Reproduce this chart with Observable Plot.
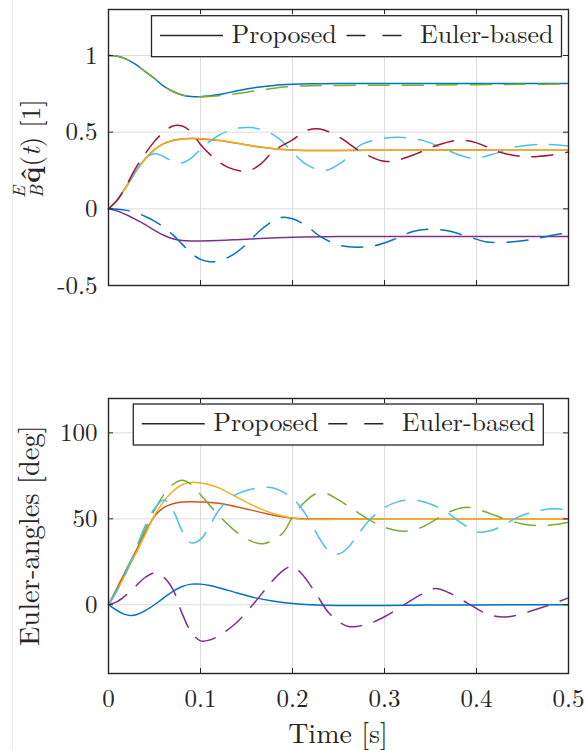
<!DOCTYPE html>
<html><head><meta charset="utf-8">
<script src="https://cdn.jsdelivr.net/npm/d3@7"></script>
<script src="https://cdn.jsdelivr.net/npm/@observablehq/plot@0.6"></script>
<style>
body{margin:0;background:#fff;width:587px;height:750px;position:relative;overflow:hidden}
#top{position:absolute;left:0;top:0}
#bot{position:absolute;left:0;top:390px}
.edge{position:absolute;left:12px;top:0;width:1px;height:750px;background:#efefef}
</style>
</head><body><div class="edge"></div><div id="top"></div><div id="bot"></div>
<script>
// ---------- tick values / labels ----------
const xTicks = [0, 0.1, 0.2, 0.3, 0.4, 0.5];
const xTickLabels = ["0", "0.1", "0.2", "0.3", "0.4", "0.5"];
const yTicksTop = [-0.5, 0, 0.5, 1];
const yTickLabelsTop = ["-0.5", "0", "0.5", "1"];
const yTicksBot = [0, 50, 100];
const yTickLabelsBot = ["0", "50", "100"];
const legendLabels = ["Proposed", "Euler-based"];
const xLabel = "Time [s]";
const yLabelBot = "Euler-angles [deg]";

// ---------- top panel: quaternion components [t, value] ----------
const qProp0 = [[0,1],[0.01,0.995],[0.02,0.975],[0.03,0.94],[0.04,0.895],[0.05,0.85],[0.06,0.80],[0.07,0.765],[0.08,0.742],[0.09,0.732],[0.1,0.731],[0.12,0.745],[0.14,0.77],[0.16,0.792],[0.18,0.805],[0.2,0.812],[0.22,0.816],[0.25,0.818],[0.3,0.818],[0.35,0.817],[0.4,0.817],[0.45,0.817],[0.5,0.817]];
const qProp1 = [[0,0],[0.01,0.062],[0.02,0.152],[0.03,0.247],[0.04,0.326],[0.05,0.386],[0.06,0.425],[0.07,0.446],[0.08,0.455],[0.09,0.458],[0.1,0.456],[0.12,0.445],[0.14,0.427],[0.16,0.407],[0.18,0.392],[0.2,0.384],[0.22,0.381],[0.25,0.381],[0.3,0.382],[0.35,0.383],[0.4,0.384],[0.45,0.385],[0.5,0.385]];
const qProp2 = [[0,0],[0.01,0.06],[0.02,0.15],[0.03,0.245],[0.04,0.325],[0.05,0.385],[0.06,0.425],[0.07,0.447],[0.08,0.457],[0.09,0.46],[0.1,0.458],[0.12,0.447],[0.14,0.428],[0.16,0.408],[0.18,0.392],[0.2,0.384],[0.22,0.381],[0.25,0.381],[0.3,0.382],[0.35,0.383],[0.4,0.384],[0.45,0.385],[0.5,0.385]];
const qProp3 = [[0,0],[0.01,-0.015],[0.02,-0.04],[0.03,-0.07],[0.04,-0.103],[0.05,-0.14],[0.06,-0.172],[0.07,-0.195],[0.08,-0.206],[0.09,-0.21],[0.1,-0.21],[0.12,-0.207],[0.15,-0.198],[0.2,-0.186],[0.25,-0.181],[0.3,-0.18],[0.4,-0.18],[0.5,-0.18]];
const qEul0 = [[0,1],[0.01,0.995],[0.02,0.975],[0.03,0.94],[0.04,0.895],[0.05,0.85],[0.06,0.80],[0.07,0.765],[0.08,0.742],[0.09,0.732],[0.1,0.731],[0.12,0.738],[0.14,0.752],[0.16,0.77],[0.18,0.787],[0.2,0.798],[0.22,0.803],[0.25,0.805],[0.3,0.806],[0.35,0.807],[0.4,0.81],[0.45,0.812],[0.5,0.814]];
const qEul1 = [[0,0],[0.01,0.06],[0.02,0.15],[0.03,0.25],[0.04,0.33],[0.05,0.36],[0.06,0.34],[0.07,0.31],[0.08,0.30],[0.09,0.33],[0.1,0.39],[0.12,0.48],[0.14,0.525],[0.155,0.53],[0.17,0.51],[0.185,0.46],[0.2,0.37],[0.215,0.29],[0.235,0.25],[0.255,0.31],[0.275,0.42],[0.3,0.46],[0.32,0.465],[0.345,0.44],[0.365,0.39],[0.395,0.33],[0.42,0.36],[0.44,0.40],[0.47,0.42],[0.5,0.41]];
const qEul2 = [[0,0],[0.01,0.06],[0.02,0.16],[0.03,0.27],[0.04,0.36],[0.05,0.44],[0.06,0.50],[0.07,0.54],[0.08,0.54],[0.09,0.50],[0.1,0.42],[0.115,0.33],[0.13,0.27],[0.15,0.245],[0.165,0.29],[0.18,0.38],[0.2,0.45],[0.215,0.51],[0.23,0.52],[0.25,0.47],[0.275,0.37],[0.3,0.31],[0.315,0.32],[0.335,0.36],[0.355,0.41],[0.38,0.448],[0.4,0.43],[0.425,0.37],[0.445,0.345],[0.46,0.34],[0.48,0.35],[0.5,0.37]];
const qEul3 = [[0,0],[0.01,-0.002],[0.02,-0.01],[0.03,-0.025],[0.04,-0.05],[0.05,-0.08],[0.06,-0.12],[0.07,-0.17],[0.08,-0.23],[0.09,-0.29],[0.1,-0.33],[0.11,-0.345],[0.12,-0.34],[0.135,-0.30],[0.15,-0.23],[0.165,-0.14],[0.18,-0.075],[0.19,-0.055],[0.2,-0.065],[0.215,-0.11],[0.23,-0.18],[0.25,-0.235],[0.27,-0.25],[0.29,-0.24],[0.31,-0.2],[0.33,-0.15],[0.35,-0.133],[0.37,-0.145],[0.39,-0.18],[0.41,-0.215],[0.42,-0.22],[0.44,-0.215],[0.46,-0.2],[0.48,-0.175],[0.5,-0.155]];

// ---------- bottom panel: Euler angles [t, deg] ----------
const angProp0 = [[0,0],[0.005,-1.8],[0.01,-3.6],[0.015,-5],[0.02,-5.9],[0.025,-6.2],[0.03,-5.8],[0.04,-3.4],[0.05,0],[0.06,4],[0.07,7.8],[0.08,10.6],[0.09,12],[0.1,12],[0.11,11.2],[0.12,9.9],[0.14,6.8],[0.16,4],[0.18,2],[0.2,0.7],[0.22,0],[0.25,-0.4],[0.3,-0.4],[0.35,-0.2],[0.4,-0.1],[0.5,0]];
const angProp1 = [[0,0],[0.01,10.5],[0.02,21],[0.03,31.5],[0.04,42],[0.05,51.5],[0.06,56.5],[0.07,58.8],[0.08,59.8],[0.09,60],[0.1,59.8],[0.12,59],[0.133,57.7],[0.154,55.2],[0.172,52.9],[0.19,51],[0.205,50.2],[0.22,49.9],[0.25,49.9],[0.3,50],[0.5,50]];
const angProp2 = [[0,0],[0.01,9],[0.02,19.5],[0.03,30],[0.04,41],[0.05,52],[0.06,60],[0.07,66],[0.08,69.8],[0.09,71.2],[0.1,70.8],[0.11,69.8],[0.12,68],[0.14,62.5],[0.165,55.8],[0.187,51.9],[0.205,50],[0.22,49.6],[0.25,49.7],[0.3,50],[0.5,50]];
const angEul0 = [[0,0],[0.01,2],[0.02,6],[0.03,11],[0.04,16],[0.05,18.5],[0.06,16],[0.07,9],[0.08,-5],[0.09,-16],[0.1,-21],[0.11,-20.5],[0.12,-18],[0.14,-10],[0.16,2],[0.175,12],[0.19,20],[0.2,22.5],[0.21,18],[0.225,7],[0.24,-5],[0.26,-12.5],[0.28,-11.5],[0.3,-7],[0.32,-0.5],[0.34,6],[0.355,9.5],[0.37,7],[0.39,1],[0.41,-5],[0.425,-7],[0.44,-6.5],[0.46,-3.5],[0.48,0],[0.5,4]];
const angEul1 = [[0,0],[0.01,10],[0.02,21],[0.03,32],[0.04,44],[0.05,55],[0.06,64],[0.07,70],[0.08,72.5],[0.09,70],[0.1,64],[0.12,52],[0.14,42],[0.155,37],[0.168,35.5],[0.18,38],[0.19,42],[0.2,51],[0.21,58],[0.225,64.5],[0.235,65],[0.25,61],[0.27,54],[0.285,49],[0.3,45],[0.32,42.8],[0.34,45],[0.36,51],[0.375,55],[0.39,56.7],[0.41,54],[0.43,50],[0.45,47],[0.47,46],[0.49,47],[0.5,48]];
const angEul2 = [[0,0],[0.01,9],[0.02,20],[0.03,33],[0.04,46],[0.05,56],[0.06,61],[0.07,55],[0.08,43],[0.09,36],[0.1,38],[0.11,46],[0.12,55],[0.135,63],[0.15,66.5],[0.17,68.3],[0.18,67.8],[0.19,65.5],[0.2,62],[0.21,56],[0.22,47.5],[0.23,38],[0.24,31],[0.25,29.5],[0.26,33],[0.27,40],[0.285,50],[0.3,56.5],[0.315,60],[0.33,61],[0.345,59.5],[0.365,54.8],[0.385,47],[0.4,42.5],[0.415,43],[0.43,46.5],[0.445,51],[0.465,54.5],[0.485,55.8],[0.5,55]];

const C = {blue:"#0072BD", red:"#D95319", yellow:"#EDB120", purple:"#7E2F8E", green:"#77AC30", cyan:"#4DBEEE", maroon:"#A2142F"};
const INK = "#262626";
const FONT = "'Latin Modern Roman', 'Liberation Serif', 'Times New Roman', serif";
const W = 587, ML = 108, MR = 19;
const DASH = "21,13";

function panel({height, mt, mb, ydom, yticks, ylabels, solid, dashed, showX}) {
  const axH = height - mt - mb, axW = W - ML - MR;
  const marks = [
    Plot.gridX(xTicks, {stroke: "#dcdcdc", strokeOpacity: 1, strokeWidth: 1}),
    Plot.gridY(yticks, {stroke: "#dcdcdc", strokeOpacity: 1, strokeWidth: 1}),
    ...solid.map(s => Plot.line(s.data, {x: d => d[0], y: d => d[1], stroke: s.color, strokeWidth: 1.5, curve: "catmull-rom"})),
    ...dashed.map(s => Plot.line(s.data, {x: d => d[0], y: d => d[1], stroke: s.color, strokeWidth: 1.5, strokeDasharray: DASH, curve: "catmull-rom"})),
    Plot.tickX(xTicks, {x: d => d, stroke: INK, strokeWidth: 1, insetTop: axH - 5}),
    Plot.tickX(xTicks, {x: d => d, stroke: INK, strokeWidth: 1, insetBottom: axH - 5}),
    Plot.tickY(yticks, {y: d => d, stroke: INK, strokeWidth: 1, insetRight: axW - 5}),
    Plot.tickY(yticks, {y: d => d, stroke: INK, strokeWidth: 1, insetLeft: axW - 5}),
    Plot.frame({stroke: INK, strokeWidth: 1.4}),
    Plot.axisY({ticks: yticks, tickSize: 0, tickPadding: 11, tickFormat: d => ylabels[yticks.indexOf(d)], fontSize: 25, label: null})
  ];
  if (showX) marks.push(Plot.axisX({ticks: xTicks, tickSize: 0, tickPadding: 16, tickFormat: d => xTickLabels[xTicks.indexOf(d)], fontSize: 25, label: null}));
  return Plot.plot({
    width: W, height, marginLeft: ML, marginRight: MR, marginTop: mt, marginBottom: mb,
    x: {domain: [0, 0.5], axis: null},
    y: {domain: ydom, axis: null},
    style: {fontFamily: FONT, fontSize: "25px", color: INK, background: "transparent", overflow: "visible"},
    marks
  });
}

function legend(svg, bx, by) {
  const g = d3.select(svg).append("g").attr("font-family", FONT).attr("font-size", 26).attr("fill", INK).attr("text-anchor", "start");
  g.append("rect").attr("x", bx).attr("y", by).attr("width", 410).attr("height", 41).attr("fill", "#fff").attr("stroke", INK).attr("stroke-width", 1.3);
  const ly = by + 19.8;
  g.append("line").attr("x1", bx + 8.5).attr("x2", bx + 71.5).attr("y1", ly).attr("y2", ly).attr("stroke", INK).attr("stroke-width", 1.5);
  g.append("text").attr("x", bx + 80).attr("y", by + 27.3).text(legendLabels[0]);
  g.append("line").attr("x1", bx + 195).attr("x2", bx + 253).attr("y1", ly).attr("y2", ly).attr("stroke", INK).attr("stroke-width", 1.5).attr("stroke-dasharray", "19,17");
  g.append("text").attr("x", bx + 268.5).attr("y", by + 27.3).text(legendLabels[1]);
}

const topSvg = panel({height: 390, mt: 9, mb: 105, ydom: [-0.5, 1.3], yticks: yTicksTop, ylabels: yTickLabelsTop,
  solid: [{data: qProp0, color: C.blue}, {data: qProp1, color: C.red}, {data: qProp2, color: C.yellow}, {data: qProp3, color: C.purple}],
  dashed: [{data: qEul0, color: C.green}, {data: qEul1, color: C.cyan}, {data: qEul2, color: C.maroon}, {data: qEul3, color: C.blue}],
  showX: false});
legend(topSvg, 151.5, 15.7);
{
  const t = d3.select(topSvg).append("text")
    .attr("transform", "translate(40,148.5) rotate(-90)")
    .attr("text-anchor", "middle").attr("font-family", FONT).attr("font-size", 27).attr("fill", INK);
  t.append("tspan").attr("font-size", 18).attr("font-style", "italic").attr("dy", -15).text("E");
  t.append("tspan").attr("font-size", 18).attr("font-style", "italic").attr("dx", -12).attr("dy", 18).text("B");
  t.append("tspan").attr("font-weight", "bold").attr("dx", 2).attr("dy", -3).text("q\u0302");
  t.append("tspan").text("(");
  t.append("tspan").attr("font-style", "italic").text("t");
  t.append("tspan").text(") [1]");
}
document.getElementById("top").appendChild(topSvg);

const botSvg = panel({height: 360, mt: 8, mb: 77, ydom: [-40, 120], yticks: yTicksBot, ylabels: yTickLabelsBot,
  solid: [{data: angProp0, color: C.blue}, {data: angProp1, color: C.red}, {data: angProp2, color: C.yellow}],
  dashed: [{data: angEul0, color: C.purple}, {data: angEul1, color: C.green}, {data: angEul2, color: C.cyan}],
  showX: true});
legend(botSvg, 133.3, 14);
d3.select(botSvg).append("text").attr("transform", "translate(39,145.7) rotate(-90)").attr("text-anchor", "middle")
  .attr("font-family", FONT).attr("font-size", 28.5).attr("fill", INK).text(yLabelBot);
d3.select(botSvg).append("text").attr("x", 338).attr("y", 352.5).attr("text-anchor", "middle")
  .attr("font-family", FONT).attr("font-size", 28).attr("fill", INK).text(xLabel);
document.getElementById("bot").appendChild(botSvg);
</script>
</body></html>
